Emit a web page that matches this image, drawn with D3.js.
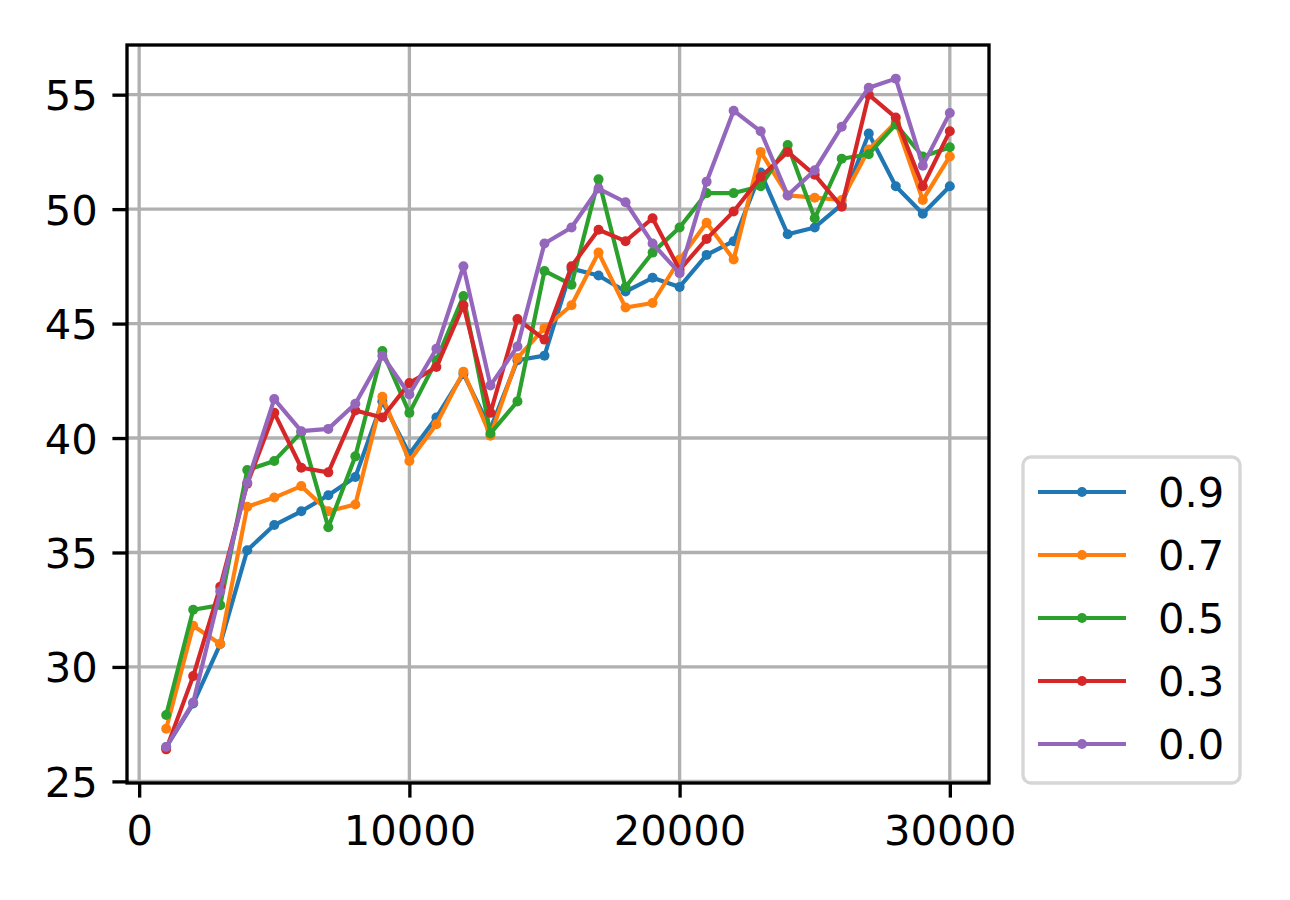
<!DOCTYPE html>
<html>
<head>
<meta charset="utf-8">
<script src="https://cdn.jsdelivr.net/npm/d3@7"></script>
<style>
  html, body { margin: 0; padding: 0; background: #ffffff; }
  svg { display: block; }
  text { font-family: "DejaVu Sans", sans-serif; }
</style>
</head>
<body>
<svg id="chart" width="1290" height="900"></svg>
<script>
// ---- data ----
const steps = [1000,2000,3000,4000,5000,6000,7000,8000,9000,10000,
               11000,12000,13000,14000,15000,16000,17000,18000,19000,20000,
               21000,22000,23000,24000,25000,26000,27000,28000,29000,30000];
const seriesNames = ["0.9", "0.7", "0.5", "0.3", "0.0"];
const s09 = [26.5,28.4,31.0,35.1,36.2,36.8,37.5,38.3,41.6,39.3,
             40.9,42.8,40.4,43.4,43.6,47.4,47.1,46.4,47.0,46.6,
             48.0,48.6,51.6,48.9,49.2,50.2,53.3,51.0,49.8,51.0];
const s07 = [27.3,31.8,31.0,37.0,37.4,37.9,36.8,37.1,41.8,39.0,
             40.6,42.9,40.1,43.5,44.8,45.8,48.1,45.7,45.9,47.8,
             49.4,47.8,52.5,50.6,50.5,50.4,52.6,53.8,50.4,52.3];
const s05 = [27.9,32.5,32.7,38.6,39.0,40.25,36.1,39.2,43.8,41.1,
             43.4,46.2,40.2,41.6,47.3,46.7,51.3,46.6,48.1,49.2,
             50.7,50.7,51.0,52.8,49.6,52.2,52.4,53.7,52.3,52.7];
const s03 = [26.4,29.6,33.5,38.0,41.1,38.7,38.5,41.2,40.9,42.4,
             43.1,45.8,41.1,45.2,44.3,47.5,49.1,48.6,49.6,47.35,
             48.7,49.9,51.4,52.5,51.5,50.1,55.0,54.0,51.0,53.4];
const s00 = [26.5,28.45,33.3,38.05,41.7,40.3,40.4,41.5,43.6,41.9,
             43.9,47.5,42.3,44.0,48.5,49.2,50.9,50.3,48.5,47.2,
             51.2,54.3,53.4,50.6,51.7,53.6,55.3,55.7,51.9,54.2];
const seriesValues = [s09, s07, s05, s03, s00];
const xTicks = [0, 10000, 20000, 30000];
const yTicks = [25, 30, 35, 40, 45, 50, 55];
const colors = ["#1f77b4", "#ff7f0e", "#2ca02c", "#d62728", "#9467bd"];

// ---- layout ----
const W = 1290, H = 900;
const plot = { left: 127, right: 989, top: 45, bottom: 783 };
const svg = d3.select("#chart");
const lw = 4.17, gridW = 3.33, spineW = 3.33, tickLen = 14.6, pad = 14.6, fs = 41.67;

const x = d3.scaleLinear().domain([-450, 31450]).range([plot.left, plot.right]);
const y = d3.scaleLinear().domain([24.93, 57.17]).range([plot.bottom, plot.top]);

svg.append("rect").attr("x", 0).attr("y", 0).attr("width", W).attr("height", H).attr("fill", "#fff");

// grid
const grid = svg.append("g");
grid.selectAll("line.gx").data(xTicks).enter().append("line")
  .attr("x1", d => x(d)).attr("x2", d => x(d))
  .attr("y1", plot.top).attr("y2", plot.bottom)
  .attr("stroke", "#b0b0b0").attr("stroke-width", gridW);
grid.selectAll("line.gy").data(yTicks).enter().append("line")
  .attr("y1", d => y(d)).attr("y2", d => y(d))
  .attr("x1", plot.left).attr("x2", plot.right)
  .attr("stroke", "#b0b0b0").attr("stroke-width", gridW);

// series
const line = d3.line().x((d, i) => x(steps[i])).y(d => y(d));
seriesValues.forEach((vals, k) => {
  const g = svg.append("g");
  g.append("path").datum(vals).attr("d", line)
    .attr("fill", "none").attr("stroke", colors[k]).attr("stroke-width", lw)
    .attr("stroke-linejoin", "round").attr("stroke-linecap", "square");
  g.selectAll("circle").data(vals).enter().append("circle")
    .attr("cx", (d, i) => x(steps[i])).attr("cy", d => y(d))
    .attr("r", 5).attr("fill", colors[k]);
});

// axes
const xAxis = d3.axisBottom(x).tickValues(xTicks).tickFormat(d3.format("d"))
  .tickSize(tickLen).tickPadding(pad);
const yAxis = d3.axisLeft(y).tickValues(yTicks).tickFormat(d3.format("d"))
  .tickSize(tickLen).tickPadding(pad);

const gx = svg.append("g").attr("transform", `translate(0,${plot.bottom})`).call(xAxis);
const gy = svg.append("g").attr("transform", `translate(${plot.left},0)`).call(yAxis);
[gx, gy].forEach(g => {
  g.select(".domain").remove();
  g.selectAll(".tick line").attr("stroke", "#000").attr("stroke-width", spineW);
  g.selectAll(".tick text").attr("fill", "#000").style("font-size", fs + "px")
    .style("font-family", "'DejaVu Sans', sans-serif");
});
gx.selectAll(".tick text").attr("dy", null).attr("y", 62).attr("dominant-baseline", "alphabetic");
gy.selectAll(".tick text").attr("dy", "0.36em");

// spines
svg.append("rect")
  .attr("x", plot.left).attr("y", plot.top)
  .attr("width", plot.right - plot.left).attr("height", plot.bottom - plot.top)
  .attr("fill", "none").attr("stroke", "#000").attr("stroke-width", spineW);

// legend
const leg = svg.append("g");
leg.append("rect").attr("x", 1023).attr("y", 457).attr("width", 217).attr("height", 326)
  .attr("rx", 8).attr("ry", 8)
  .attr("fill", "#fff").attr("fill-opacity", 0.8)
  .attr("stroke", "#d6d6d6").attr("stroke-width", 3.33);
const rowY = d3.scaleLinear().domain([0, 4]).range([492, 744]);
seriesNames.forEach((name, k) => {
  const yy = rowY(k);
  leg.append("line").attr("x1", 1038).attr("x2", 1126).attr("y1", yy).attr("y2", yy)
    .attr("stroke", colors[k]).attr("stroke-width", lw);
  leg.append("circle").attr("cx", 1082).attr("cy", yy).attr("r", 5).attr("fill", colors[k]);
  leg.append("text").attr("x", 1158).attr("y", yy).attr("dy", "0.36em")
    .style("font-size", fs + "px").attr("fill", "#000").text(name);
});
</script>
</body>
</html>
